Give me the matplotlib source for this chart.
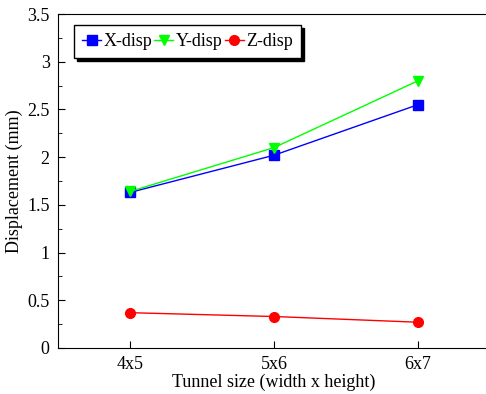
import matplotlib
matplotlib.use("Agg")
import matplotlib.pyplot as plt

plt.rcParams["font.family"] = ["Liberation Serif", "DejaVu Serif"]

sizes = ["4x5", "5x6", "6x7"]
x_disp = [1.63, 2.02, 2.55]
y_disp = [1.64, 2.10, 2.80]
z_disp = [0.37, 0.33, 0.27]

fig = plt.figure(figsize=(4.86, 3.94), dpi=100)
ax = fig.add_axes([58 / 486, 46 / 394, 432 / 486, 334 / 394])

pos = [1, 2, 3]
ax.plot(pos, x_disp, color="#0000ff", marker="s", markersize=7, lw=1, label="X-disp")
ax.plot(pos, y_disp, color="#00ff00", marker="v", markersize=7.5, lw=1, label="Y-disp")
ax.plot(pos, z_disp, color="#ff0000", marker="o", markersize=7, lw=1, label="Z-disp")

ax.set_xlim(0.5, 3.5)
ax.set_ylim(0, 3.5)
ax.set_xticks(pos)
ax.set_xticklabels(sizes)
ax.set_yticks([0, 0.5, 1, 1.5, 2, 2.5, 3, 3.5])
ax.set_yticklabels(["0", "0.5", "1", "1.5", "2", "2.5", "3", "3.5"])
ax.set_yticks([0.25 + 0.5 * i for i in range(7)], minor=True)
ax.tick_params(axis="both", which="major", direction="in", length=5, labelsize=13, pad=6)
ax.tick_params(axis="y", which="minor", direction="in", length=3)
ax.tick_params(top=False, right=False)
ax.spines["right"].set_visible(False)

ax.set_xlabel("Tunnel size (width x height)", fontsize=13, labelpad=0)
ax.set_ylabel("Displacement (mm)", fontsize=13, labelpad=3)

leg = ax.legend(loc="upper left", ncol=3, fontsize=13, handlelength=1.05,
                handletextpad=0.15, columnspacing=0.1, borderpad=0.45,
                borderaxespad=0, fancybox=False,
                shadow={"ox": 2, "oy": -2, "color": "black", "alpha": 1},
                framealpha=1, bbox_to_anchor=(0.037, 0.967))
leg.get_frame().set_edgecolor("black")

fig.savefig("out.png", dpi=100)
